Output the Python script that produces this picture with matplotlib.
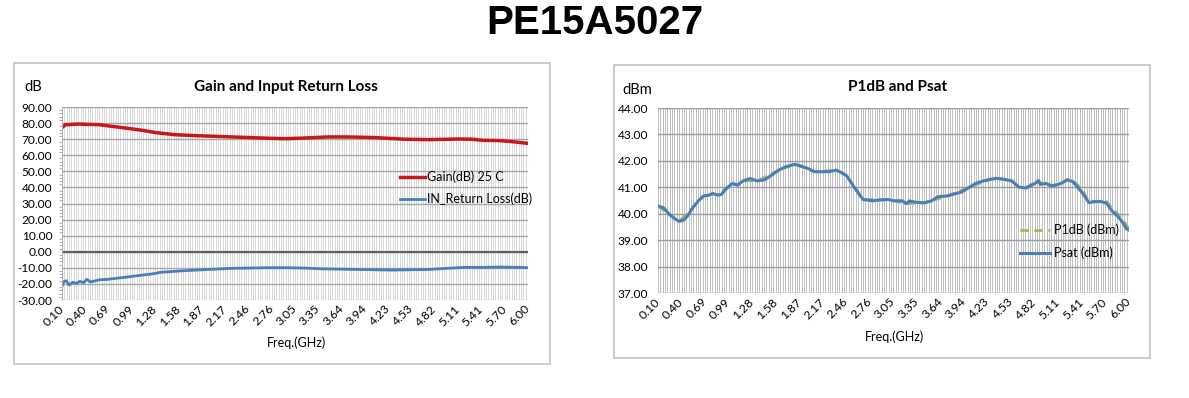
import numpy as np
import matplotlib
matplotlib.use("Agg")
import matplotlib.pyplot as plt
from matplotlib.patches import Rectangle
from matplotlib.ticker import FixedLocator, MultipleLocator

plt.rcParams["font.family"] = ["Lato", "DejaVu Sans"]

# category axis: 201 sweep points 0.10 .. 6.00 GHz, labelled every 10th
FREQ = np.round(np.linspace(0.1, 6.0, 201), 4)
TICK_LABELS = ["0.10", "0.40", "0.69", "0.99", "1.28", "1.58", "1.87", "2.17",
               "2.46", "2.76", "3.05", "3.35", "3.64", "3.94", "4.23", "4.53",
               "4.82", "5.11", "5.41", "5.70", "6.00"]

# Gain (dB) 25 C
gain_f = [0.100, 0.145, 0.304, 0.576, 0.666, 0.893, 1.120, 1.301, 1.527, 1.799,
          2.252, 2.705, 2.932, 3.158, 3.476, 3.702, 4.065, 4.427, 4.744, 5.107,
          5.288, 5.424, 5.651, 5.832, 6.000]
gain_db = [77.2, 79.0, 79.4, 79.0, 78.4, 77.0, 75.5, 74.0, 72.8, 72.2,
           71.4, 70.6, 70.3, 70.7, 71.4, 71.4, 71.0, 70.0, 69.7, 70.1,
           70.0, 69.3, 69.1, 68.3, 67.4]

# IN_Return Loss (dB)
rl_f = [0.100, 0.123, 0.154, 0.191, 0.236, 0.281, 0.327, 0.372, 0.417, 0.462,
        0.508, 0.576, 0.666, 0.893, 1.120, 1.255, 1.346, 1.573, 1.799, 2.026,
        2.252, 2.479, 2.705, 2.932, 3.158, 3.385, 3.612, 3.838, 4.065, 4.291,
        4.518, 4.744, 4.971, 5.197, 5.424, 5.651, 5.877, 6.000]
rl_db = [-21.7, -18.6, -18.0, -20.7, -19.0, -19.7, -18.4, -19.2, -17.2, -18.8,
         -18.2, -17.4, -17.2, -15.9, -14.5, -13.7, -12.8, -12.0, -11.4, -10.8,
         -10.3, -10.1, -9.9, -9.9, -10.1, -10.6, -10.8, -11.0, -11.2, -11.4,
         -11.2, -11.0, -10.3, -9.7, -9.7, -9.5, -9.7, -9.9]

# Psat (dBm)
psat_f = [0.100, 0.167, 0.244, 0.311, 0.365, 0.423, 0.468, 0.536, 0.603, 0.670,
          0.738, 0.782, 0.850, 0.895, 0.940, 1.029, 1.097, 1.164, 1.254, 1.344,
          1.434, 1.523, 1.613, 1.703, 1.815, 1.883, 1.972, 2.062, 2.152, 2.242,
          2.332, 2.399, 2.466, 2.534, 2.601, 2.668, 2.781, 2.893, 2.983, 3.050,
          3.162, 3.207, 3.252, 3.319, 3.432, 3.521, 3.611, 3.723, 3.813, 3.903,
          3.993, 4.083, 4.173, 4.262, 4.352, 4.442, 4.532, 4.621, 4.711, 4.779,
          4.824, 4.868, 4.891, 4.958, 5.026, 5.093, 5.160, 5.228, 5.295, 5.362,
          5.430, 5.497, 5.565, 5.654, 5.722, 5.789, 5.857, 5.924, 5.969, 6.000]
psat_dbm = [40.29, 40.23, 39.97, 39.81, 39.71, 39.76, 39.91, 40.23, 40.48, 40.67,
            40.70, 40.76, 40.71, 40.73, 40.92, 41.14, 41.08, 41.24, 41.33, 41.24,
            41.28, 41.46, 41.65, 41.78, 41.87, 41.81, 41.72, 41.59, 41.59, 41.59,
            41.65, 41.56, 41.43, 41.11, 40.82, 40.54, 40.49, 40.52, 40.54, 40.49,
            40.49, 40.38, 40.48, 40.44, 40.41, 40.48, 40.65, 40.67, 40.75, 40.82,
            40.99, 41.15, 41.24, 41.30, 41.34, 41.30, 41.24, 41.01, 40.97, 41.08,
            41.15, 41.24, 41.11, 41.15, 41.05, 41.09, 41.16, 41.28, 41.22, 40.99,
            40.73, 40.42, 40.46, 40.46, 40.39, 40.10, 39.91, 39.66, 39.43, 39.38]

# P1dB (dBm) - mostly hidden under Psat
p1db_f = [0.100, 0.311, 0.365, 0.536, 0.670, 0.782, 0.850, 0.895, 0.940, 1.029,
          1.097, 1.164, 1.344, 1.613, 1.815, 2.062, 2.332, 2.466, 2.601, 2.668,
          2.983, 3.207, 3.432, 3.723, 3.993, 4.262, 4.352, 4.532, 4.621, 4.711,
          4.779, 4.868, 4.891, 4.958, 5.026, 5.093, 5.160, 5.228, 5.295, 5.362,
          5.430, 5.497, 5.565, 5.654, 5.722, 5.789, 5.857, 5.924, 5.969, 6.000]
p1db_dbm = [40.29, 39.81, 39.71, 40.23, 40.67, 40.76, 40.71, 40.67, 40.88, 41.16,
            41.10, 41.24, 41.24, 41.65, 41.87, 41.59, 41.65, 41.43, 40.82, 40.54,
            40.54, 40.38, 40.41, 40.67, 40.99, 41.30, 41.34, 41.24, 41.01, 40.99,
            41.12, 41.27, 41.15, 41.18, 41.07, 41.10, 41.18, 41.30, 41.26, 41.08,
            40.82, 40.48, 40.44, 40.48, 40.45, 40.20, 40.00, 39.76, 39.55, 39.45]

RED = "#c8161d"
BLUE = "#4a7ebb"
GREEN = "#9bbb59"

fig = plt.figure(figsize=(11.89, 3.98), dpi=100)
fig.text(0.5, 0.943, "PE15A5027", ha="center", va="center", fontsize=29,
         fontweight="bold", family="Liberation Sans")

# chart frames
for x0, y0, w, h in [(0.0118, 0.0854, 0.4508, 0.7563), (0.5164, 0.1005, 0.4508, 0.7362)]:
    fig.patches.append(Rectangle((x0, y0), w, h, transform=fig.transFigure,
                                 fill=False, ec="#c4c4c4", lw=1.2))


def style_axis(ax, vgrid, hgrid):
    ax.set_xlim(FREQ[0], FREQ[-1])
    ax.xaxis.set_major_locator(FixedLocator(FREQ[::10]))
    ax.xaxis.set_minor_locator(FixedLocator(FREQ))
    ax.set_xticklabels(TICK_LABELS, rotation=45, ha="right", va="center",
                       rotation_mode="anchor", fontsize=8.8)
    ax.grid(True, which="both", axis="x", color=vgrid, lw=0.6)
    ax.grid(True, which="major", axis="y", color=hgrid, lw=1.0)
    ax.tick_params(axis="x", which="both", length=0, pad=5)
    ax.tick_params(axis="y", which="major", length=0, pad=7, labelsize=8.6)
    for s in ax.spines.values():
        s.set_visible(False)
    ax.set_axisbelow(True)
    ax.yaxis.set_major_formatter(matplotlib.ticker.FormatStrFormatter("%.2f"))


# left: gain and input return loss
ax1 = fig.add_axes([0.0521, 0.2462, 0.3919, 0.4849])
style_axis(ax1, "#d2d2d2", "#a6a6a6")
ax1.set_ylim(-30, 90)
ax1.yaxis.set_major_locator(MultipleLocator(10))
ax1.yaxis.set_minor_locator(MultipleLocator(2))
ax1.tick_params(axis="y", which="minor", length=2.5, color="#a0a0a0")
ax1.spines["left"].set_visible(True)
ax1.spines["left"].set_color("#b0b0b0")
ax1.axhline(0, color="#606060", lw=1.6, zorder=1.5)
ax1.plot(gain_f, gain_db, color=RED, lw=2.5, label="Gain(dB) 25 C")
ax1.plot(rl_f, rl_db, color=BLUE, lw=2.0, label="IN_Return Loss(dB)")
ax1.legend(loc="upper left", bbox_to_anchor=(0.725, 0.67), frameon=False,
           fontsize=9, borderpad=0, borderaxespad=0, handlelength=2.0,
           handletextpad=0.15, labelspacing=0.75)
fig.text(24 / 1189, 1 - 87 / 398, "dB", ha="left", va="center", fontsize=10.5)
fig.text(286 / 1189, 1 - 87 / 398, "Gain and Input Return Loss", ha="center",
         va="center", fontsize=11, fontweight="bold")
fig.text(296 / 1189, 1 - 343 / 398, "Freq.(GHz)", ha="center", va="center", fontsize=9)

# right: P1dB and Psat
ax2 = fig.add_axes([0.5534, 0.2638, 0.3961, 0.4648])
style_axis(ax2, "#b4b4b4", "#9c9c9c")
ax2.set_ylim(37, 44)
ax2.yaxis.set_major_locator(MultipleLocator(1))
ax2.plot(p1db_f, p1db_dbm, color=GREEN, lw=2.0, ls=(0, (3, 2)), label="P1dB (dBm)")
ax2.plot(psat_f, psat_dbm, color=BLUE, lw=2.2, label="Psat (dBm)")
ax2.legend(loc="upper left", bbox_to_anchor=(0.769, 0.375), frameon=False,
           fontsize=9, borderpad=0, borderaxespad=0, handlelength=2.4,
           handletextpad=0.3, labelspacing=0.85)
fig.text(622 / 1189, 1 - 90 / 398, "dBm", ha="left", va="center", fontsize=10.5)
fig.text(898 / 1189, 1 - 87 / 398, "P1dB and Psat", ha="center",
         va="center", fontsize=11, fontweight="bold")
fig.text(894 / 1189, 1 - 337 / 398, "Freq.(GHz)", ha="center", va="center", fontsize=9)

fig.savefig("out.png", dpi=100)
